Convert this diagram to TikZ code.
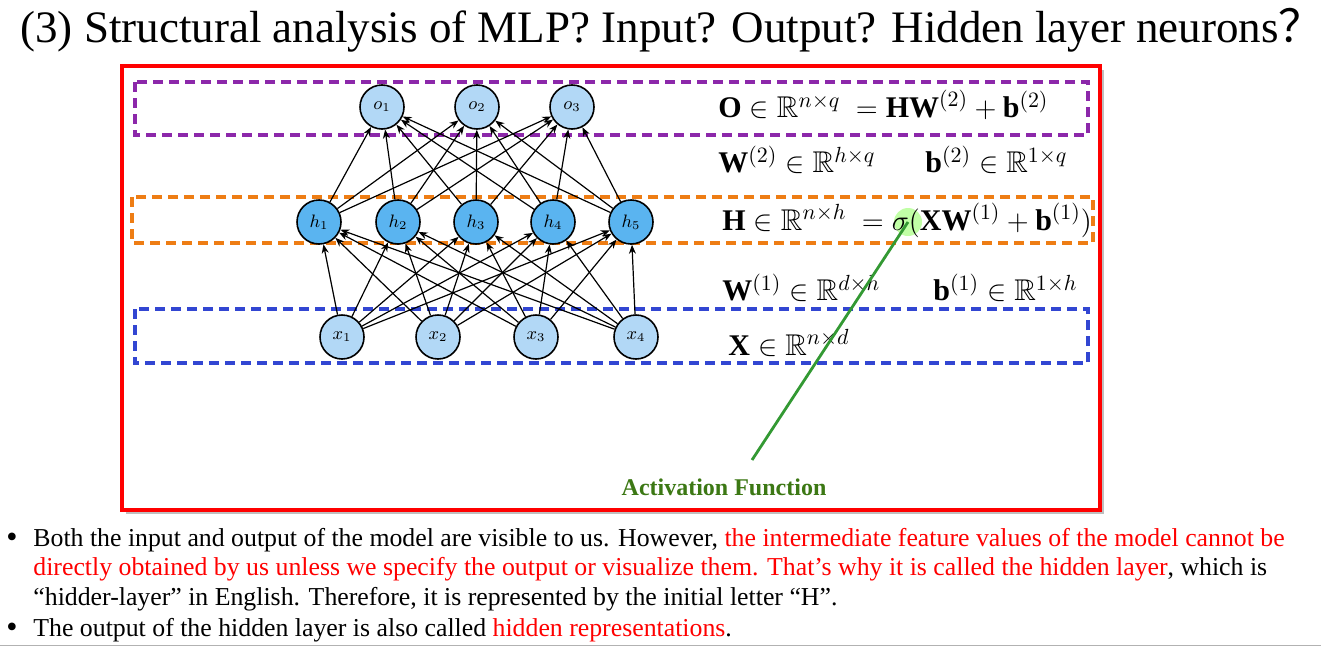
\documentclass[tikz,border=0pt]{standalone}
\usepackage{amsmath}
\usepackage{amssymb}
\usepackage{fontspec}
\setmainfont{Liberation Serif}
\newfontfamily\cjk{Noto Sans CJK SC}
\usepackage{tikz}
\usetikzlibrary{arrows.meta}
\definecolor{lblue}{RGB}{178,216,246}
\definecolor{hblue}{RGB}{90,180,240}
\definecolor{boxpurple}{RGB}{140,40,170}
\definecolor{boxorange}{RGB}{238,125,20}
\definecolor{boxblue}{RGB}{50,70,210}
\definecolor{actgreen}{RGB}{60,120,20}
\begin{document}
\begin{tikzpicture}[x=0.5pt,y=-0.5pt,
  neuron/.style={circle,draw=black,thick,fill=lblue,minimum size=22pt,inner sep=0pt,font=\fontsize{9}{10}\selectfont},
  hidden/.style={neuron,fill=hblue},
  layerbox/.style={dashed,line width=1.6pt,dash pattern=on 5pt off 3pt},
  formula/.style={anchor=west,inner sep=0pt,font=\fontsize{15}{18}\selectfont},
  bullet/.style={anchor=west,inner sep=0pt,font=\fontsize{12.9}{15}\selectfont},
  conn/.style={-{Stealth[length=4.5pt,width=3.5pt]},semithick}]
\useasboundingbox (0,0) rectangle (1321,648);
\node[anchor=west,inner sep=0pt,font=\fontsize{22.5}{26}\selectfont] (title) at (20,30)
  {(3) Structural analysis of MLP? Input? Output? Hidden layer neurons{\cjk ？}};
\fill[gray!50] (126,70) rectangle (1104,514);
\draw[red,line width=1.6pt,fill=white] (122,66) rectangle (1100,510);
\draw[layerbox,boxpurple] (135,82) rectangle (1088,135);
\draw[layerbox,boxorange] (132,197) rectangle (1093,243);
\draw[layerbox,boxblue] (135,309) rectangle (1088,363);
% neurons
\node[neuron] (o1) at (382,107) {$o_1$};
\node[neuron] (o2) at (477,107) {$o_2$};
\node[neuron] (o3) at (572,107) {$o_3$};
\node[hidden] (h1) at (319,222) {$h_1$};
\node[hidden] (h2) at (398,222) {$h_2$};
\node[hidden] (h3) at (476,222) {$h_3$};
\node[hidden] (h4) at (553,222) {$h_4$};
\node[hidden] (h5) at (631,222) {$h_5$};
\node[neuron] (x1) at (342,337) {$x_1$};
\node[neuron] (x2) at (438,337) {$x_2$};
\node[neuron] (x3) at (536,337) {$x_3$};
\node[neuron] (x4) at (636,337) {$x_4$};
\foreach \i in {1,...,4}
  \foreach \j in {1,...,5}
    \draw[conn] (x\i) -- (h\j);
\foreach \j in {1,...,5}
  \foreach \k in {1,2,3}
    \draw[conn] (h\j) -- (o\k);
% activation highlight
\node[circle,fill=green!60!lime!35,minimum size=14pt,inner sep=0pt] (sig) at (908,222) {};
% formulas
\node[formula] (fo) at (718,105) {$\mathbf{O}\in\mathbb{R}^{n\times q}\ =\mathbf{HW}^{(2)}+\mathbf{b}^{(2)}$};
\node[formula] (fw2) at (718,160) {$\mathbf{W}^{(2)}\in\mathbb{R}^{h\times q}$};
\node[formula] (fb2) at (925,160) {$\mathbf{b}^{(2)}\in\mathbb{R}^{1\times q}$};
\node[formula] (fh) at (722,220) {$\mathbf{H}\in\mathbb{R}^{n\times h}\ =\sigma(\mathbf{XW}^{(1)}+\mathbf{b}^{(1)})$};
\node[formula] (fw1) at (722,288) {$\mathbf{W}^{(1)}\in\mathbb{R}^{d\times h}$};
\node[formula] (fb1) at (933,288) {$\mathbf{b}^{(1)}\in\mathbb{R}^{1\times h}$};
\node[formula] (fx) at (728,343) {$\mathbf{X}\in\mathbb{R}^{n\times d}$};
\node[font=\fontsize{12}{14}\selectfont\bfseries,text=actgreen] (act) at (724,487) {Activation Function};
\coordinate (actend) at (752,460);
\draw[green!50!black!80,line width=1.4pt] (sig.center) -- (actend);
% bullets
\node[bullet,font=\fontsize{16}{16}\selectfont] (b1) at (6,540) {•};
\node[bullet] (t1) at (33,540) {Both the input and output of the model are visible to us. However, \textcolor{red}{the intermediate feature values of the model cannot be}};
\node[bullet] (t2) at (33,569) {\textcolor{red}{directly obtained by us unless we specify the output or visualize them. That’s why it is called the hidden layer}, which is};
\node[bullet] (t3) at (33,599) {“hidder-layer” in English. Therefore, it is represented by the initial letter “H”.};
\node[bullet,font=\fontsize{16}{16}\selectfont] (b4) at (6,630) {•};
\node[bullet] (t4) at (33,630) {The output of the hidden layer is also called \textcolor{red}{hidden representations}.};
\draw[gray!60] (0,645) -- (1321,645);
\end{tikzpicture}
\end{document}
